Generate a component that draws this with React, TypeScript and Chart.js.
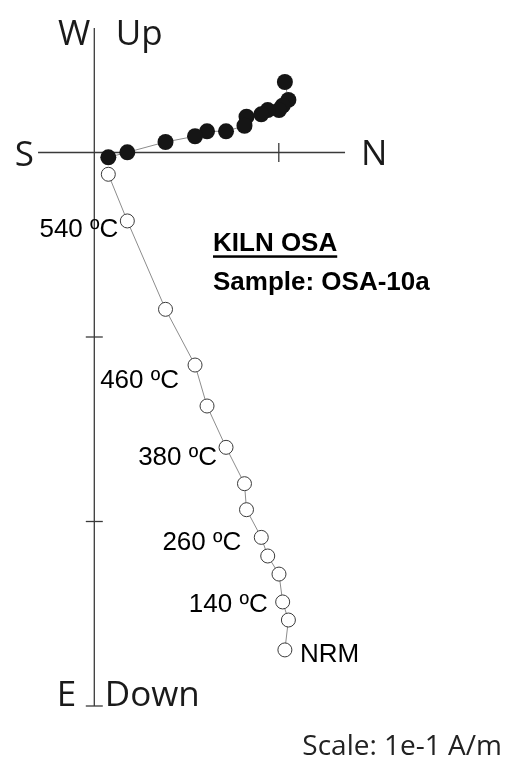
import React, { useEffect, useRef } from "react";
import { Chart, registerables } from "chart.js";

Chart.register(...registerables);

// Demagnetisation steps (NRM first)
const steps = ["NRM", "100", "140", "180", "220", "260", "300", "340", "380", "420", "460", "500", "540", "580"];
// North component (units of 1e-1 A/m)
const north = [1.033, 1.052, 1.021, 1.001, 0.94, 0.905, 0.825, 0.814, 0.714, 0.611, 0.546, 0.386, 0.179, 0.076];
// Horizontal projection: West (+) / East (-)
const westEast = [0.382, 0.285, 0.254, 0.23, 0.23, 0.207, 0.194, 0.145, 0.115, 0.115, 0.088, 0.057, 0.001, -0.026];
// Vertical projection: Up (+) / Down (-)
const upDown = [-2.696, -2.534, -2.436, -2.285, -2.187, -2.086, -1.936, -1.795, -1.598, -1.374, -1.152, -0.85, -0.371, -0.118];
// Steps that carry a label
const labelledSteps = ["NRM", "140", "260", "380", "460", "540"];
// Axis tick values
const northTicks = [1];
const verticalTicks = [-1, -2, -3];
const northAxisRange = [-0.305, 1.359];
const verticalAxisRange = [-3.0, 0.675];

const title = "KILN OSA";
const subtitle = "Sample: OSA-10a";
const scaleText = "Scale: 1e-1 A/m";

// label placement (pixel offsets from the point; style only)
const labelPlacement: Record<string, { dx: number; dy: number; align: CanvasTextAlign }> = {
  NRM: { dx: 15, dy: 12, align: "left" },
  "140": { dx: -15, dy: 10, align: "right" },
  "260": { dx: -20, dy: 13, align: "right" },
  "380": { dx: -9, dy: 18, align: "right" },
  "460": { dx: -16, dy: 23, align: "right" },
  "540": { dx: -9, dy: 16, align: "right" },
};

const W = 507;
const H = 761;
const PX_PER_UNIT = 184.5;
const ORIGIN_X = 94.3;
const ORIGIN_Y = 152.5;

const zijPlugin = {
  id: "zij",
  beforeDatasetsDraw(chart: any) {
    const { ctx } = chart;
    const xs = chart.scales.x;
    const ys = chart.scales.y;
    const x0 = xs.getPixelForValue(0);
    const y0 = ys.getPixelForValue(0);
    ctx.save();
    ctx.strokeStyle = "#3a3a3a";
    ctx.lineWidth = 1.3;
    const line = (a: number, b: number, c: number, d: number) => {
      ctx.beginPath();
      ctx.moveTo(a, b);
      ctx.lineTo(c, d);
      ctx.stroke();
    };
    line(xs.getPixelForValue(northAxisRange[0]), y0, xs.getPixelForValue(northAxisRange[1]), y0);
    line(x0, ys.getPixelForValue(verticalAxisRange[1]), x0, ys.getPixelForValue(verticalAxisRange[0]));
    northTicks.forEach((t) => {
      const p = xs.getPixelForValue(t);
      line(p, y0 - 9.5, p, y0 + 9.5);
    });
    verticalTicks.forEach((t) => {
      const p = ys.getPixelForValue(t);
      line(x0 - 8.5, p, x0 + 8.5, p);
    });
    ctx.restore();
  },
  afterDatasetsDraw(chart: any) {
    const { ctx } = chart;
    const xs = chart.scales.x;
    const ys = chart.scales.y;
    const x0 = xs.getPixelForValue(0);
    const y0 = ys.getPixelForValue(0);
    const hL = xs.getPixelForValue(northAxisRange[0]);
    const hR = xs.getPixelForValue(northAxisRange[1]);
    const vB = ys.getPixelForValue(verticalAxisRange[0]);
    ctx.save();
    ctx.fillStyle = "#1a1a1a";
    ctx.textBaseline = "alphabetic";
    // axis direction labels
    ctx.font = '35px "Open Sans"';
    ctx.textAlign = "right";
    ctx.fillText("W", x0 - 4, 45);
    ctx.textAlign = "left";
    ctx.fillText("Up", x0 + 21.5, 45);
    ctx.textAlign = "right";
    ctx.fillText("S", hL - 4, y0 + 13.5);
    ctx.textAlign = "left";
    ctx.fillText("N", hR + 16, y0 + 12.5);
    ctx.textAlign = "right";
    ctx.fillText("E", x0 - 18, vB);
    ctx.textAlign = "left";
    ctx.fillText("Down", x0 + 10.5, vB);

    // step labels
    ctx.fillStyle = "#000";
    ctx.font = '26px "Liberation Sans", Arial';
    labelledSteps.forEach((s) => {
      const i = steps.indexOf(s);
      const px = xs.getPixelForValue(north[i]);
      const py = ys.getPixelForValue(upDown[i]);
      const pl = labelPlacement[s];
      ctx.textAlign = pl.align;
      const txt = s === "NRM" ? "NRM" : s + " \u00baC";
      ctx.fillText(txt, px + pl.dx, py + pl.dy);
    });

    // title
    ctx.textAlign = "left";
    ctx.font = 'bold 26px "Liberation Sans", Arial';
    ctx.fillText(title, 213, 251);
    const tw = ctx.measureText(title).width;
    ctx.fillRect(213, 255.3, tw, 2.5);
    ctx.fillText(subtitle, 213, 290);

    // scale
    ctx.fillStyle = "#222";
    ctx.font = '28px "Open Sans"';
    ctx.textAlign = "right";
    ctx.fillText(scaleText, 502, 755);
    ctx.restore();
  },
};

export default function App() {
  const ref = useRef<HTMLCanvasElement | null>(null);
  useEffect(() => {
    if (!ref.current) return;
    const horiz = north.map((n, i) => ({ x: n, y: westEast[i] }));
    const vert = north.map((n, i) => ({ x: n, y: upDown[i] }));
    const chart = new Chart(ref.current, {
      type: "scatter",
      data: {
        datasets: [
          {
            label: "Vertical",
            data: vert,
            showLine: true,
            borderColor: "#8c8c8c",
            borderWidth: 1,
            pointRadius: 7,
            pointBackgroundColor: "#ffffff",
            pointBorderColor: "#3a3a3a",
            pointBorderWidth: 1,
            clip: false as any,
          },
          {
            label: "Horizontal",
            data: horiz,
            showLine: true,
            borderColor: "#8c8c8c",
            borderWidth: 1,
            pointRadius: 8,
            pointBackgroundColor: "#151515",
            pointBorderColor: "#151515",
            pointBorderWidth: 0,
            clip: false as any,
          },
        ],
      },
      options: {
        responsive: false,
        animation: false,
        layout: { padding: 0, autoPadding: false } as any,
        plugins: { legend: { display: false }, tooltip: { enabled: false } },
        scales: {
          x: {
            type: "linear",
            display: false,
            min: -ORIGIN_X / PX_PER_UNIT,
            max: (W - ORIGIN_X) / PX_PER_UNIT,
          },
          y: {
            type: "linear",
            display: false,
            min: -(H - ORIGIN_Y) / PX_PER_UNIT,
            max: ORIGIN_Y / PX_PER_UNIT,
          },
        },
      },
      plugins: [zijPlugin],
    });
    return () => chart.destroy();
  }, []);
  return (
    <div style={{ position: "absolute", left: 0, top: 0, width: W, height: H, background: "#fff" }}>
      <canvas ref={ref} width={W} height={H} style={{ display: "block", width: W, height: H }} />
    </div>
  );
}
